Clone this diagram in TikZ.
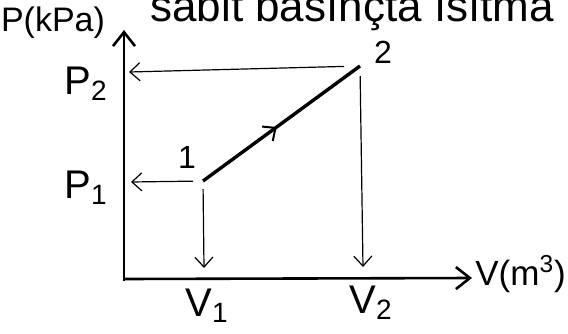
\documentclass[tikz,border=0pt]{standalone}
\usepackage{fontspec}
\setmainfont{Liberation Sans}
\usetikzlibrary{arrows.meta, decorations.markings}
\tikzstyle{axis}   = [line width=1.3pt, -{Straight Barb[length=7pt, width=11pt]}]
\tikzstyle{proj}   = [line width=0.6pt, -{Straight Barb[length=5pt, width=9pt]}]
\tikzstyle{process}= [line width=1.7pt, postaction={decorate},
    decoration={markings, mark=at position 0.47 with {\arrow[line width=1pt]{Straight Barb[length=5pt, width=9pt]}}}]
\tikzstyle{lbl}    = [inner sep=0pt, font=\fontsize{16}{18}\selectfont]
\tikzstyle{biglbl} = [lbl, font=\fontsize{20}{22}\selectfont]

\begin{document}
\begin{tikzpicture}[x=0.5pt, y=-0.5pt]
  \useasboundingbox (0,0) rectangle (568,333);

  % title, cut off by the page edge
  \node[lbl, anchor=base west, font=\fontsize{22}{24}\selectfont] (title) at (150,21) {sabit basınçta ısıtma};

  % axes
  \coordinate (o)    at (124,279);
  \coordinate (ytop) at (124,30);
  \coordinate (xend) at (472,278);
  \draw[axis] (124,281) -- (ytop);
  \draw[axis] (o) -- (xend);
  \node[lbl, font=\fontsize{17}{19}\selectfont] (plabel) at (53,23) {P(kPa)};
  \node[lbl, anchor=west, font=\fontsize{17.5}{19}\selectfont] (vlabel) at (475,274) {V(m\textsuperscript{3})};

  % states
  \coordinate (p1) at (203,181);
  \coordinate (p2) at (360,66);
  \node[lbl] (n1) at (187,157) {1};
  \node[lbl] (n2) at (383,52) {2};

  % projections
  \coordinate (p1y) at (131,182);
  \coordinate (p1x) at (204,268);
  \coordinate (p2y) at (129,72);
  \coordinate (p2x) at (363,267);
  \draw[proj, shorten <=5pt] (p1) -- (p1y);
  \draw[proj, shorten <=4pt] (p1) -- (p1x);
  \draw[proj, shorten <=8pt] (p2) -- (p2y);
  \draw[proj, shorten <=5pt] (p2) -- (p2x);

  \node[biglbl] (lp1) at (86,188) {P\textsubscript{1}};
  \node[biglbl] (lp2) at (86,84)  {P\textsubscript{2}};
  \node[biglbl] (lv1) at (207,306) {V\textsubscript{1}};
  \node[biglbl] (lv2) at (371,303) {V\textsubscript{2}};

  % process 1-2
  \draw[process] (p1) -- (p2);
\end{tikzpicture}
\end{document}
